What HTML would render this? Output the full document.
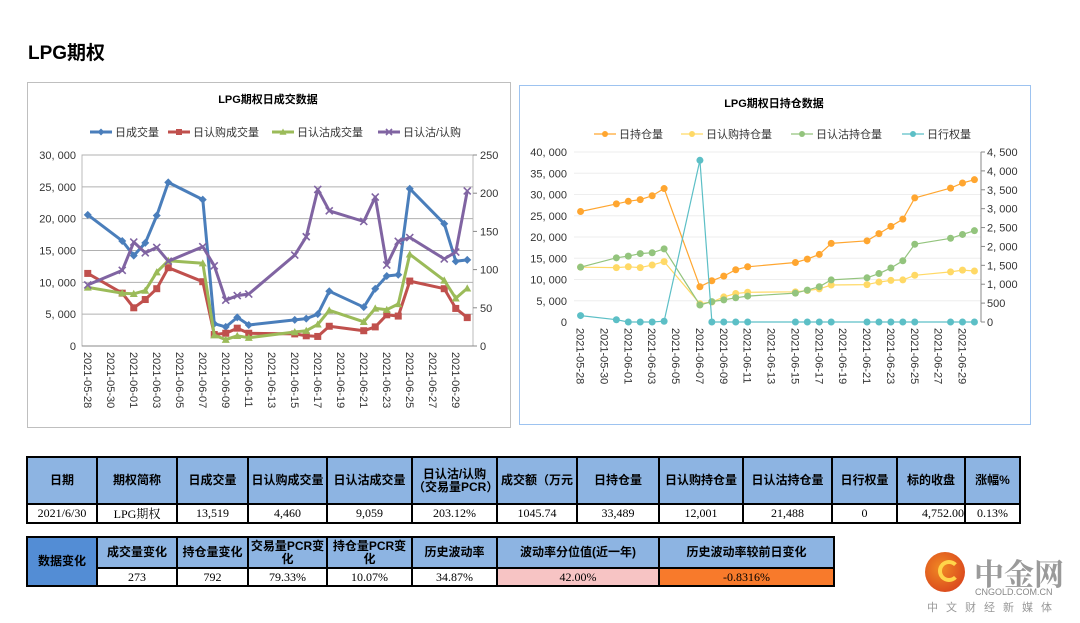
<!DOCTYPE html>
<html><head><meta charset="utf-8">
<style>
body{margin:0;width:1080px;height:623px;background:#fff;position:relative;overflow:hidden;font-family:"Liberation Sans","Noto Sans CJK SC",sans-serif;}
.abs{position:absolute;}
table{border-collapse:collapse;position:absolute;font-size:12px;table-layout:fixed;}
td{border:2px solid #000;text-align:center;padding:0;font-family:"Liberation Serif","Noto Serif CJK SC",serif;overflow:hidden;white-space:nowrap;}
.h{background:#8db4e2;font-weight:bold;font-family:"Liberation Sans","Noto Sans CJK SC",sans-serif;font-size:12px;line-height:13px;white-space:normal;}
svg text{font-family:"Liberation Sans","Noto Sans CJK SC",sans-serif;}
</style></head><body>
<div class="abs" style="left:28px;top:38px;font-size:19px;font-weight:bold;">LPG期权</div>

<svg class="abs" style="left:0;top:0" width="1080" height="440" id="charts">
<rect x="27.5" y="82.5" width="483" height="345" fill="#fff" stroke="#bfbfbf"/>
<rect x="519.5" y="85.5" width="511" height="339" fill="#fff" stroke="#9dc3f0"/>
<text x="268" y="103" text-anchor="middle" font-size="11" font-weight="bold">LPG期权日成交数据</text>
<text x="774" y="107" text-anchor="middle" font-size="11" font-weight="bold">LPG期权日持仓数据</text>
<g id="L"></g><g id="R"></g>
</svg>

<table style="left:26px;top:456px;width:993px;">
<colgroup><col style="width:70px"><col style="width:80px"><col style="width:71px"><col style="width:79px"><col style="width:85px"><col style="width:85px"><col style="width:80px"><col style="width:82px"><col style="width:84px"><col style="width:89px"><col style="width:65px"><col style="width:68px"><col style="width:55px"></colgroup>
<tr style="height:47px">
<td class="h">日期</td><td class="h">期权简称</td><td class="h">日成交量</td><td class="h">日认购成交量</td><td class="h">日认沽成交量</td><td class="h">日认沽/认购（交易量PCR）</td><td class="h" style="white-space:nowrap">成交额（万元</td><td class="h">日持仓量</td><td class="h">日认购持仓量</td><td class="h">日认沽持仓量</td><td class="h">日行权量</td><td class="h">标的收盘</td><td class="h">涨幅%</td></tr>
<tr style="height:18px"><td>2021/6/30</td><td>LPG期权</td><td>13,519</td><td>4,460</td><td>9,059</td><td>203.12%</td><td>1045.74</td><td>33,489</td><td>12,001</td><td>21,488</td><td>0</td><td style="text-align:right">4,752.00</td><td>0.13%</td></tr>
</table>

<table style="left:26px;top:536px;width:807px;">
<colgroup><col style="width:70px"><col style="width:80px"><col style="width:71px"><col style="width:79px"><col style="width:85px"><col style="width:85px"><col style="width:162px"><col style="width:175px"></colgroup>
<tr style="height:31px"><td class="h" rowspan="2" style="background:#538dd5">数据变化</td><td class="h">成交量变化</td><td class="h">持仓量变化</td><td class="h">交易量PCR变化</td><td class="h">持仓量PCR变化</td><td class="h">历史波动率</td><td class="h">波动率分位值(近一年)</td><td class="h">历史波动率较前日变化</td></tr>
<tr style="height:18px"><td>273</td><td>792</td><td>79.33%</td><td>10.07%</td><td>34.87%</td><td style="background:#f7c4c4">42.00%</td><td style="background:#f87a2b">-0.8316%</td></tr>
</table>

<div class="abs" style="left:925px;top:552px;width:150px;height:65px;">
<div style="position:absolute;left:0;top:0;width:40px;height:40px;border-radius:50%;background:radial-gradient(circle at 40% 40%,#f08a24,#d4341b);"></div>
<div style="position:absolute;left:13px;top:8px;width:14px;height:14px;border-radius:50%;border:4px solid #ffd54a;border-right-color:transparent;"></div>
<div style="position:absolute;left:49px;top:-2px;font-size:30px;color:#9a9a9a;font-weight:bold;font-family:'Noto Serif CJK SC',serif;">中金网</div>
<div style="position:absolute;left:50px;top:35px;font-size:9px;color:#888;">CNGOLD.COM.CN</div>
<div style="position:absolute;left:2px;top:47px;font-size:11px;color:#999;letter-spacing:8px;">中文财经新媒体</div>
</div>

<script>
const NS='http://www.w3.org/2000/svg';
const days=[0,3,4,5,6,7,10,11,12,13,14,18,19,20,21,24,25,26,27,28,31,32,33];
const tickDays=[0,2,4,6,8,10,12,14,16,18,20,22,24,26,28,30,32];
const tickLabels=['2021-05-28','2021-05-30','2021-06-01','2021-06-03','2021-06-05','2021-06-07','2021-06-09','2021-06-11','2021-06-13','2021-06-15','2021-06-17','2021-06-19','2021-06-21','2021-06-23','2021-06-25','2021-06-27','2021-06-29'];
const volTotal=[20600,16500,14200,16200,20500,25700,23000,3500,3000,4500,3300,4100,4300,5000,8600,6100,9000,11000,11200,24700,19200,13300,13519];
const volCall=[11400,8300,6000,7300,9000,12300,10100,1800,2000,2800,2000,1900,1600,1500,3100,2400,3000,4900,4700,10200,9000,5900,4460];
const volPut=[9200,8300,8200,8700,11600,13400,13000,1700,1000,1600,1300,2200,2400,3400,5600,3800,5900,5700,6600,14400,10300,7500,9059];
const volRatio=[80,99,136,122,129,111,130,105,60,66,68,119,143,205,177,163,195,106,137,142,114,123,203];
const oiTotal=[26000,27800,28400,28800,29700,31400,8300,9700,10800,12300,13000,14000,14800,15900,18500,19100,20800,22500,24200,29200,31500,32700,33489];
const oiCall=[12900,12800,13000,12800,13400,14200,4300,4700,5900,6700,7000,7100,7400,7800,8700,8800,9400,9800,9900,11000,11800,12200,12001];
const oiPut=[12900,15100,15500,16100,16300,17200,4000,4800,5200,5700,6100,6800,7500,8300,9900,10400,11400,12700,14400,18300,19700,20600,21488];
const exercise=[170,60,0,0,0,20,4280,0,0,0,0,0,0,0,0,0,0,0,0,0,0,0,0];
const leftTicks=[0,5000,10000,15000,20000,25000,30000];
const leftRTicks=[0,50,100,150,200,250];
const rightTicks=[0,5000,10000,15000,20000,25000,30000,35000,40000];
const rightRTicks=[0,500,1000,1500,2000,2500,3000,3500,4000,4500];

function el(p,t,a){const e=document.createElementNS(NS,t);for(const k in a)e.setAttribute(k,a[k]);p.appendChild(e);return e;}
function fmt(v){return v.toLocaleString('en-US').replace(',',', ');}
function scale(d0,d1,r0,r1){return v=>r0+(v-d0)/(d1-d0)*(r1-r0);}
function marker(g,type,x,y,c,s){
  let e;
  if(type==='diamond')e=el(g,'path',{d:`M${x} ${y-s}L${x+s} ${y}L${x} ${y+s}L${x-s} ${y}Z`,fill:c});
  else if(type==='square')e=el(g,'rect',{x:x-s,y:y-s,width:2*s,height:2*s,fill:c});
  else if(type==='tri')e=el(g,'path',{d:`M${x} ${y-s}L${x+s} ${y+s*0.8}L${x-s} ${y+s*0.8}Z`,fill:c});
  else if(type==='x')e=el(g,'path',{d:`M${x-s} ${y-s}L${x+s} ${y+s}M${x-s} ${y+s}L${x+s} ${y-s}`,stroke:c,'stroke-width':1.6});
  else e=el(g,'circle',{cx:x,cy:y,r:s,fill:c});
  
  
}
function series(g,vals,xs,ys,c,w,type,s,name){
  const pts=vals.map((v,i)=>xs(days[i]).toFixed(1)+','+ys(v).toFixed(1)).join(' ');
  const pl=el(g,'polyline',{points:pts,fill:'none',stroke:c,'stroke-width':w,'stroke-linejoin':'round'});
  
  
  vals.forEach((v,i)=>marker(g,type,xs(days[i]),ys(v),c,s));
}
function legend(g,x,y,c,type,label,w,s){
  const l=el(g,'line',{x1:x,y1:y,x2:x+22,y2:y,stroke:c,'stroke-width':w});
  
  
  marker(g,type,x+11,y,c,s);
  const t=el(g,'text',{x:x+25,y:y+4,'font-size':11,fill:'#333'});t.textContent=label;
  
  
}
function axes(g,X0,X1,Y0,Y1,xs,ys,yr,lt,rt,fmtR,grid,lx,rx){
  lt.forEach(v=>{const y=ys(v);
    if(v>0&&grid)el(g,'line',{x1:X0,x2:X1,y1:y,y2:y,stroke:grid});
    const t=el(g,'text',{x:lx,y:y+4,'text-anchor':'end','font-size':11,fill:'#333'});t.textContent=fmt(v);
    });
  rt.forEach(v=>{const y=yr(v);
    el(g,'line',{x1:X1,x2:X1+4,y1:y,y2:y,stroke:'#888'});
    const t=el(g,'text',{x:rx,y:y+4,'font-size':11,fill:'#333'});t.textContent=fmtR(v);
    });
  tickDays.forEach((d,i)=>{const x=xs(d);
    const t=el(g,'text',{transform:`translate(${x-4},${Y0+6}) rotate(90)`,'font-size':11,fill:'#333'});t.textContent=tickLabels[i];
    });
}
(function(){
  const g=document.getElementById('L');
  const X0=82,X1=473,Y0=346,Y1=155;
  const xs=scale(-0.5,33.5,X0,X1),ys=scale(0,30000,Y0,Y1),yr=scale(0,250,Y0,Y1);
  el(g,'rect',{x:X0,y:Y1,width:X1-X0,height:Y0-Y1,fill:'none',stroke:'#bbb'});
  axes(g,X0,X1,Y0,Y1,xs,ys,yr,leftTicks,leftRTicks,v=>String(v),'#b0b0b0',X0-6,X1+7);
  el(g,'line',{x1:X0,x2:X1,y1:Y0,y2:Y0,stroke:'#888'});
  series(g,volTotal,xs,ys,'#4a7ebb',3,'diamond',4,'total-volume');
  series(g,volCall,xs,ys,'#c0504d',3,'square',3.5,'call-volume');
  series(g,volPut,xs,ys,'#9bbb59',3,'tri',4,'put-volume');
  series(g,volRatio,xs,yr,'#8064a2',3,'x',3.5,'pc-ratio');
  legend(g,90,132,'#4a7ebb','diamond','日成交量',3,3.5);
  legend(g,168,132,'#c0504d','square','日认购成交量',3,3);
  legend(g,272,132,'#9bbb59','tri','日认沽成交量',3,3.5);
  legend(g,378,132,'#8064a2','x','日认沽/认购',3,3);
})();
(function(){
  const g=document.getElementById('R');
  const X0=574,X1=981,Y0=322,Y1=152;
  const xs=scale(-0.55,33.55,X0,X1),ys=scale(0,40000,Y0,Y1),yr=scale(0,4500,Y0,Y1);
  axes(g,X0,X1,Y0,Y1,xs,ys,yr,rightTicks,rightRTicks,v=>fmt(v),'#eeeeee',X0-7,X1+6);
  el(g,'line',{x1:X1,x2:X1,y1:Y1,y2:Y0,stroke:'#888'});
  series(g,oiTotal,xs,ys,'#ffa630',1.2,'c',3.5,'total-oi');
  series(g,oiCall,xs,ys,'#ffd966',1.2,'c',3.5,'call-oi');
  series(g,oiPut,xs,ys,'#93c47d',1.2,'c',3.5,'put-oi');
  series(g,exercise,xs,yr,'#5cbfc6',1.2,'c',3.5,'exercise');
  legend(g,594,134,'#ffa630','c','日持仓量',1.2,3);
  legend(g,681,134,'#ffd966','c','日认购持仓量',1.2,3);
  legend(g,791,134,'#93c47d','c','日认沽持仓量',1.2,3);
  legend(g,902,134,'#5cbfc6','c','日行权量',1.2,3);
})();
</script>
</body></html>
